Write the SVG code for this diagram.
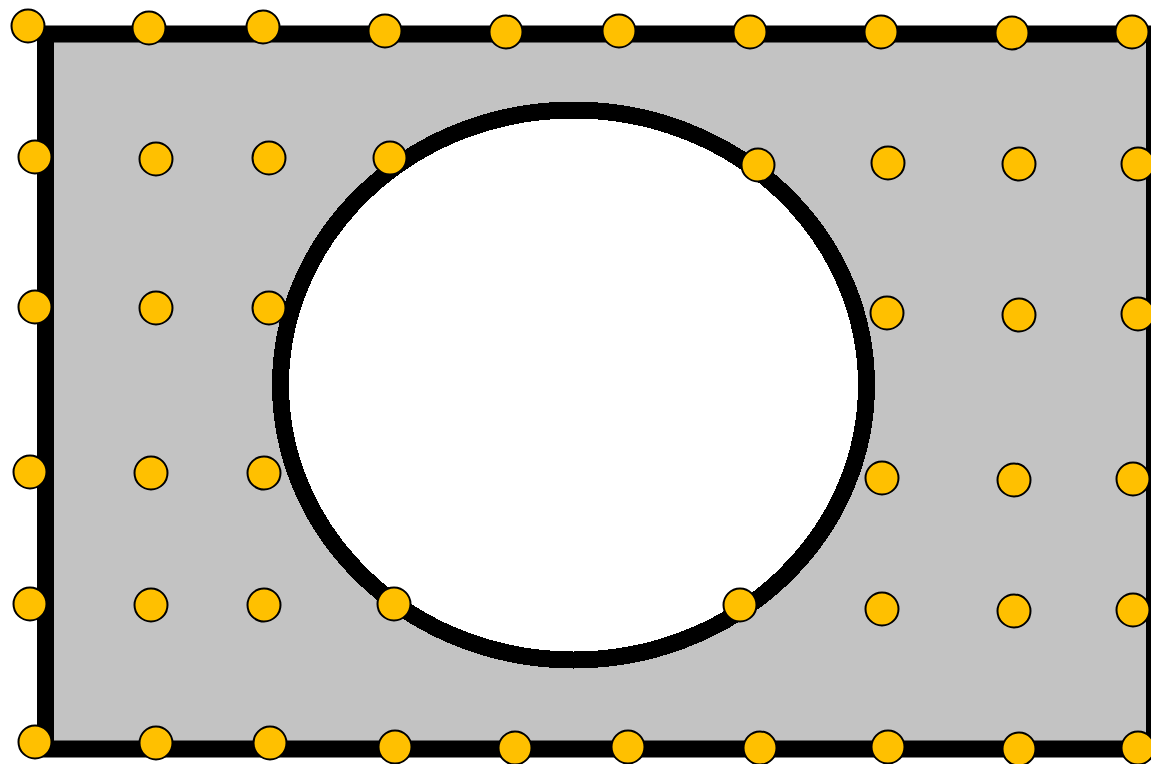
<svg xmlns="http://www.w3.org/2000/svg" width="1151" height="764" viewBox="0 0 1151 764">
<style>
.dot{fill:#ffc000;stroke:#000;stroke-width:2}
</style>
<rect width="1151" height="764" fill="#fff"/>
<rect id="plate" x="45.5" y="34" width="1109" height="715" fill="#c3c3c3" stroke="#000" stroke-width="17"/>
<ellipse id="hole" cx="573.5" cy="385" rx="293" ry="275" fill="#fff" stroke="#000" stroke-width="17" shape-rendering="crispEdges"/>
<g id="points">
<circle class="dot" cx="28" cy="26" r="16.5"/>
<circle class="dot" cx="149" cy="28" r="16.5"/>
<circle class="dot" cx="263" cy="27" r="16.5"/>
<circle class="dot" cx="385" cy="31" r="16.5"/>
<circle class="dot" cx="506" cy="32" r="16.5"/>
<circle class="dot" cx="619" cy="31" r="16.5"/>
<circle class="dot" cx="750" cy="32" r="16.5"/>
<circle class="dot" cx="881" cy="32" r="16.5"/>
<circle class="dot" cx="1012" cy="33" r="16.5"/>
<circle class="dot" cx="1132" cy="32" r="16.5"/>
<circle class="dot" cx="35" cy="157" r="16.5"/>
<circle class="dot" cx="156" cy="159" r="16.5"/>
<circle class="dot" cx="269" cy="158" r="16.5"/>
<circle class="dot" cx="390" cy="158" r="16.5"/>
<circle class="dot" cx="758" cy="165" r="16.5"/>
<circle class="dot" cx="888" cy="163" r="16.5"/>
<circle class="dot" cx="1019" cy="164" r="16.5"/>
<circle class="dot" cx="1138" cy="164" r="16.5"/>
<circle class="dot" cx="35" cy="307" r="16.5"/>
<circle class="dot" cx="156" cy="308" r="16.5"/>
<circle class="dot" cx="269" cy="308" r="16.5"/>
<circle class="dot" cx="887" cy="313" r="16.5"/>
<circle class="dot" cx="1019" cy="315" r="16.5"/>
<circle class="dot" cx="1138" cy="314" r="16.5"/>
<circle class="dot" cx="30" cy="472" r="16.5"/>
<circle class="dot" cx="151" cy="473" r="16.5"/>
<circle class="dot" cx="264" cy="473" r="16.5"/>
<circle class="dot" cx="882" cy="478" r="16.5"/>
<circle class="dot" cx="1014" cy="480" r="16.5"/>
<circle class="dot" cx="1133" cy="479" r="16.5"/>
<circle class="dot" cx="30" cy="604" r="16.5"/>
<circle class="dot" cx="151" cy="605" r="16.5"/>
<circle class="dot" cx="264" cy="605" r="16.5"/>
<circle class="dot" cx="394" cy="604" r="16.5"/>
<circle class="dot" cx="740" cy="605" r="16.5"/>
<circle class="dot" cx="882" cy="609" r="16.5"/>
<circle class="dot" cx="1014" cy="611" r="16.5"/>
<circle class="dot" cx="1133" cy="610" r="16.5"/>
<circle class="dot" cx="35" cy="742" r="16.5"/>
<circle class="dot" cx="156" cy="743" r="16.5"/>
<circle class="dot" cx="270" cy="743" r="16.5"/>
<circle class="dot" cx="395" cy="747" r="16.5"/>
<circle class="dot" cx="515" cy="748" r="16.5"/>
<circle class="dot" cx="628" cy="747" r="16.5"/>
<circle class="dot" cx="760" cy="748" r="16.5"/>
<circle class="dot" cx="888" cy="747" r="16.5"/>
<circle class="dot" cx="1019" cy="749" r="16.5"/>
<circle class="dot" cx="1138" cy="748" r="16.5"/>
</g>
</svg>
